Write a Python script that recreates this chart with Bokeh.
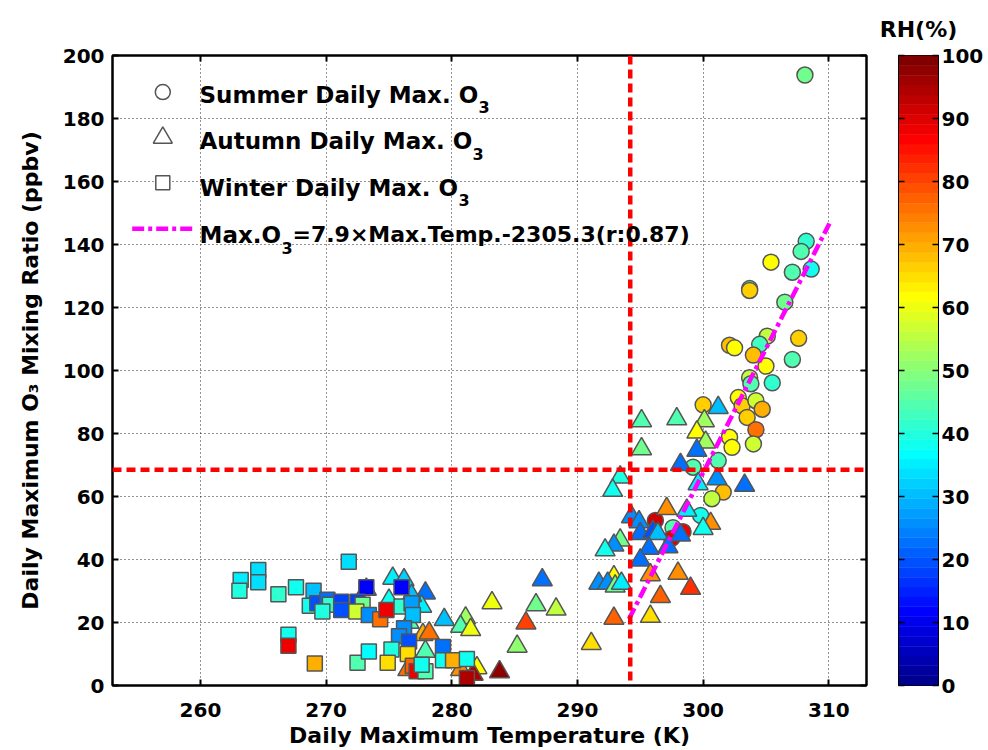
import numpy as np
from bokeh.plotting import figure
from bokeh.layouts import row
from bokeh.models import (ColumnDataSource, LinearColorMapper, FixedTicker, Span, Label,
                          LinearAxis)
from bokeh.embed import file_html
from bokeh.resources import INLINE

# ---------------- data ----------------
summer_temp = [308.1, 308.2, 307.8, 305.4, 307.1, 308.6, 303.7, 303.7, 306.5, 307.6,
               302.1, 302.5, 305.1, 304.5, 304.0, 305.0, 307.1, 305.5, 303.7, 303.8,
               302.8, 303.1, 304.2, 304.7, 303.5, 300.0, 304.2, 304.0, 302.1, 302.3,
               301.2, 299.2, 301.6, 300.7, 299.8, 296.2, 297.6, 298.4, 297.5]
summer_o3 = [193.8, 141.0, 137.8, 134.4, 131.2, 132.2, 126.0, 125.4, 121.7, 110.2,
             108.0, 107.2, 110.9, 108.3, 104.9, 101.4, 103.5, 96.1, 97.7, 95.8,
             91.4, 88.8, 90.4, 87.7, 85.1, 89.1, 81.2, 76.7, 78.8, 75.6,
             71.4, 69.3, 61.4, 59.3, 54.0, 52.4, 50.1, 48.8, 46.7]
summer_rh = [47, 42, 45, 62, 45, 38, 45, 67, 47, 67,
             68, 62, 55, 43, 68, 62, 45, 42, 55, 45,
             62, 66, 57, 70, 66, 66, 75, 57, 62, 62,
             45, 45, 68, 55, 38, 92, 45, 88, 90]

autumn_temp = [295.1, 297.9, 300.1, 301.2, 299.5, 300.2, 299.5, 295.1, 298.2, 301.1,
               303.3, 299.6, 293.4, 292.8, 297.1, 298.7, 300.6, 300.0, 294.3, 294.9,
               295.0, 296.0, 296.4, 298.2, 297.2, 295.7, 295.0, 293.4, 292.9, 292.2,
               295.8, 298.0, 299.0, 296.6, 292.9, 291.7, 292.4, 293.0, 293.5, 295.8,
               292.9, 291.1, 288.3, 287.2, 286.7, 285.9, 285.2, 283.2, 283.8, 282.0,
               281.7, 281.1, 280.7, 281.5, 280.7, 279.4, 277.9, 277.6, 277.7, 278.2,
               277.9, 276.5, 275.3, 276.2, 276.8, 275.0, 273.2, 276.6]
autumn_o3 = [84.0, 84.6, 84.0, 88.2, 80.4, 77.2, 74.6, 75.1, 70.1, 65.6,
             63.5, 64.0, 66.1, 61.9, 56.1, 55.6, 51.4, 49.8, 53.5, 51.9,
             48.2, 48.8, 48.2, 47.7, 44.0, 43.5, 39.8, 46.1, 44.5, 43.0,
             35.1, 35.6, 30.8, 28.2, 34.5, 32.4, 32.4, 31.5, 32.4, 21.9,
             21.3, 13.3, 24.2, 33.5, 25.6, 19.8, 12.4, 26.2, 4.3, 5.6,
             3.5, 21.4, 18.7, 17.7, 5.0, 20.9, 29.3, 25.1, 16.1, 16.6,
             10.8, 5.0, 34.0, 33.5, 28.5, 27.0, 30.5, 20.0]
autumn_rh = [45, 45, 52, 30, 62, 52, 22, 47, 22, 25,
             22, 35, 40, 38, 72, 35, 72, 38, 25, 25,
             22, 20, 30, 22, 22, 22, 22, 48, 25, 38,
             72, 72, 82, 78, 62, 25, 25, 48, 35, 65,
             78, 65, 55, 22, 48, 80, 50, 60, 97, 62,
             95, 52, 45, 60, 72, 30, 22, 35, 70, 75,
             45, 75, 35, 32, 30, 38, 30, 45]

winter_temp = [271.8, 263.2, 263.1, 264.6, 264.6, 266.2, 267.6, 269.0, 268.7, 269.3,
               270.1, 270.3, 269.7, 271.2, 271.2, 273.2, 272.5, 272.9, 272.4, 273.4,
               274.3, 267.0, 267.0, 269.1, 272.5, 273.4, 276.0, 274.8, 276.0, 276.8,
               276.9, 276.2, 275.8, 276.6, 275.2, 276.5, 274.9, 279.3, 279.3, 280.1,
               281.2, 276.9, 277.2, 277.9, 277.6, 281.2]
winter_o3 = [39.3, 33.5, 30.1, 36.7, 32.8, 29.0, 31.2, 30.1, 25.3, 26.1,
             27.2, 25.6, 23.5, 26.6, 24.0, 31.2, 26.6, 25.6, 23.5, 22.4,
             21.0, 16.1, 12.6, 7.0, 7.2, 10.8, 31.2, 24.0, 25.1, 26.1,
             22.4, 18.2, 15.6, 14.0, 11.4, 10.0, 7.2, 12.2, 8.0, 8.0,
             8.4, 6.3, 4.5, 4.5, 6.6, 2.4]
winter_rh = [33, 35, 40, 33, 33, 42, 38, 30, 38, 20,
             22, 42, 40, 18, 20, 12, 18, 48, 57, 25,
             75, 38, 88, 70, 45, 37, 12, 88, 42, 28,
             30, 25, 25, 20, 40, 65, 65, 22, 38, 70,
             38, 78, 88, 45, 38, 95]

fit_temp = [294.1, 310.05]
fit_o3 = [21.1, 146.7]

temp_threshold = 294.2
o3_threshold = 68.5

x_ticks = [260, 270, 280, 290, 300, 310]
y_ticks = [0, 20, 40, 60, 80, 100, 120, 140, 160, 180, 200]
rh_ticks = [0, 10, 20, 30, 40, 50, 60, 70, 80, 90, 100]
RH_LOW, RH_HIGH = 0, 100


# ---------------- MATLAB jet(64) palette ----------------
def jet(m=64):
    n = int(np.ceil(m / 4))
    u = np.concatenate([np.arange(1, n + 1) / n, np.ones(n - 1), np.arange(n, 0, -1) / n])
    g = int(np.ceil(n / 2)) - (1 if m % 4 == 1 else 0) + np.arange(1, len(u) + 1)
    r = g + n
    b = g - n
    g = g[g <= m]
    r = r[r <= m]
    b = b[b >= 1]
    J = np.zeros((m, 3))
    J[r - 1, 0] = u[:len(r)]
    J[g - 1, 1] = u[:len(g)]
    J[b - 1, 2] = u[len(u) - len(b):]
    return ["#%02x%02x%02x" % tuple(int(round(c * 255)) for c in row_) for row_ in J]


palette = jet(64)
mapper = LinearColorMapper(palette=palette, low=RH_LOW, high=RH_HIGH)

FONT = "DejaVu Sans"
XMIN, XMAX, YMIN, YMAX = 253, 313, 0, 200
LEFT, TOP, BOTTOM, RIGHT = 112, 54, 64, 10
FW = 754
H = 750
FH = H - TOP - BOTTOM

p = figure(width=LEFT + FW + RIGHT, height=H, x_range=(XMIN, XMAX), y_range=(YMIN, YMAX),
           output_backend="svg", toolbar_location=None,
           min_border_left=LEFT, min_border_top=TOP, min_border_bottom=BOTTOM,
           min_border_right=RIGHT, background_fill_color="white", border_fill_color="white")

p.outline_line_color = "black"
p.outline_line_width = 2

p.xaxis.ticker = FixedTicker(ticks=x_ticks)
p.yaxis.ticker = FixedTicker(ticks=y_ticks)
for ax in (p.xaxis, p.yaxis):
    ax.major_tick_in = 6
    ax.major_tick_out = 0
    ax.major_tick_line_width = 2
    ax.minor_tick_line_color = None
    ax.axis_line_width = 2
    ax.axis_line_color = "black"
    ax.major_label_text_font = FONT
    ax.major_label_text_font_style = "bold"
    ax.major_label_text_font_size = "20px"
    ax.major_label_text_color = "black"
    ax.axis_label_text_font = FONT
    ax.axis_label_text_font_style = "bold"
    ax.axis_label_text_font_size = "22px"
    ax.axis_label_text_color = "black"
p.xaxis.major_label_standoff = 17
p.yaxis.major_label_standoff = 8
p.xaxis.axis_label = "Daily Maximum Temperature (K)"
p.yaxis.axis_label = "Daily Maximum O\u2083 Mixing Ratio (ppbv)"
p.xaxis.axis_label_standoff = 3
p.yaxis.axis_label_standoff = 17


def tick_only_axis(ticks):
    return LinearAxis(ticker=FixedTicker(ticks=ticks), major_tick_in=6, major_tick_out=0,
                      major_tick_line_width=2, minor_tick_line_color=None, axis_line_width=2,
                      major_label_text_font_size="1px", major_label_text_alpha=0,
                      major_label_standoff=0)


p.add_layout(tick_only_axis(x_ticks), "above")
p.add_layout(tick_only_axis(y_ticks), "right")

p.grid.grid_line_color = "black"
p.grid.grid_line_dash = "1 3"
p.grid.grid_line_width = 1
p.grid.grid_line_alpha = 0.85

EDGE = "#555555"

src_s = ColumnDataSource(dict(temp=summer_temp, o3=summer_o3, rh=summer_rh))
src_a = ColumnDataSource(dict(temp=autumn_temp, o3=autumn_o3, rh=autumn_rh))
src_w = ColumnDataSource(dict(temp=winter_temp, o3=winter_o3, rh=winter_rh))

p.scatter("temp", "o3", source=src_s, marker="circle", size=16,
          fill_color={"field": "rh", "transform": mapper}, line_color=EDGE, line_width=1.5)
p.scatter("temp", "o3", source=src_a, marker="triangle", size=20,
          fill_color={"field": "rh", "transform": mapper}, line_color=EDGE, line_width=1.5)
p.scatter("temp", "o3", source=src_w, marker="square", size=15,
          fill_color={"field": "rh", "transform": mapper}, line_color=EDGE, line_width=1.5)

p.add_layout(Span(location=temp_threshold, dimension="height", line_color="red",
                  line_dash="9 5", line_width=4.5))
p.add_layout(Span(location=o3_threshold, dimension="width", line_color="red",
                  line_dash="9 5", line_width=4.5))

p.line(fit_temp, fit_o3, line_color="#ff00ff", line_width=4.5, line_dash="12 4 4 4")

# ---------------- legend (picture pixel layout -> data coords) ----------------
SX = FW / (XMAX - XMIN)
SY = FH / (YMAX - YMIN)


def dx(px):
    return XMIN + (px - LEFT) / SX


def dy(py):
    return (TOP + FH - py) / SY


p.scatter([dx(162.3)], [dy(90.7)], marker="circle", size=15, fill_color="white",
          line_color=EDGE, line_width=1.5)
p.scatter([dx(162.3)], [dy(136.5)], marker="triangle", size=19, fill_color="white",
          line_color=EDGE, line_width=1.5)
p.scatter([dx(162.3)], [dy(181.7)], marker="square", size=14, fill_color="white",
          line_color=EDGE, line_width=1.5)
p.line([dx(131.7), dx(191.7)], [dy(227.7), dy(227.7)], line_color="#ff00ff",
       line_width=4.5, line_dash="12 4 4 4")


def lab(px, py, text, size):
    p.add_layout(Label(x=dx(px), y=dy(py), text=text, text_font=FONT,
                       text_font_style="bold", text_font_size=size, text_color="black",
                       text_align="left", text_baseline="alphabetic"))


lab(199, 93.3, "Summer Daily Max. O", "23px")
lab(478, 106.0, "3", "16px")
lab(199, 140.0, "Autumn Daily Max. O", "23px")
lab(472, 152.7, "3", "16px")
lab(199, 186.7, "Winter Daily Max. O", "23px")
lab(458, 199.4, "3", "16px")
lab(199, 234.0, "Max.O", "23px")
lab(281, 246.7, "3", "16px")
lab(292, 234.0, "=7.9\u00d7Max.Temp.-2305.3(r:0.87)", "22px")

# ---------------- colour bar as its own small figure ----------------
CB_W = 988 - (LEFT + FW + RIGHT)
CB_LEFT, CB_FW = 22, 40
cbf = figure(width=CB_W, height=H, x_range=(0, 1), y_range=(RH_LOW, RH_HIGH),
             output_backend="svg", toolbar_location=None, y_axis_location="right",
             min_border_left=CB_LEFT, min_border_right=CB_W - CB_LEFT - CB_FW,
             min_border_top=TOP, min_border_bottom=BOTTOM,
             background_fill_color="white", border_fill_color="white")
edges = np.linspace(RH_LOW, RH_HIGH, len(palette) + 1)
cbf.quad(left=0, right=1, bottom=edges[:-1], top=edges[1:], fill_color=palette,
         line_color=palette, line_width=0.5)
cbf.xaxis.visible = False
cbf.grid.visible = False
cbf.outline_line_color = "black"
cbf.outline_line_width = 1
cbf.yaxis.ticker = FixedTicker(ticks=rh_ticks)
cbf.yaxis.major_tick_in = 6
cbf.yaxis.major_tick_out = 0
cbf.yaxis.major_tick_line_width = 1.5
cbf.yaxis.minor_tick_line_color = None
cbf.yaxis.axis_line_width = 1
cbf.yaxis.major_label_standoff = 3
cbf.yaxis.major_label_text_font = FONT
cbf.yaxis.major_label_text_font_style = "bold"
cbf.yaxis.major_label_text_font_size = "20px"
cbf.yaxis.major_label_text_color = "black"
cb_left_axis = LinearAxis(ticker=FixedTicker(ticks=rh_ticks), major_tick_in=6,
                          major_tick_out=0, major_tick_line_width=1.5,
                          minor_tick_line_color=None, axis_line_width=1,
                          major_label_text_font_size="1px", major_label_text_alpha=0,
                          major_label_standoff=0)
cbf.add_layout(cb_left_axis, "left")
cbf.title.text = "RH(%)"
cbf.title.align = "center"
cbf.title.standoff = 28
cbf.title.text_font = FONT
cbf.title.text_font_style = "bold"
cbf.title.text_font_size = "22px"
cbf.title.text_color = "black"

layout = row(p, cbf)
open("out.html", "w").write(file_html(layout, INLINE))
